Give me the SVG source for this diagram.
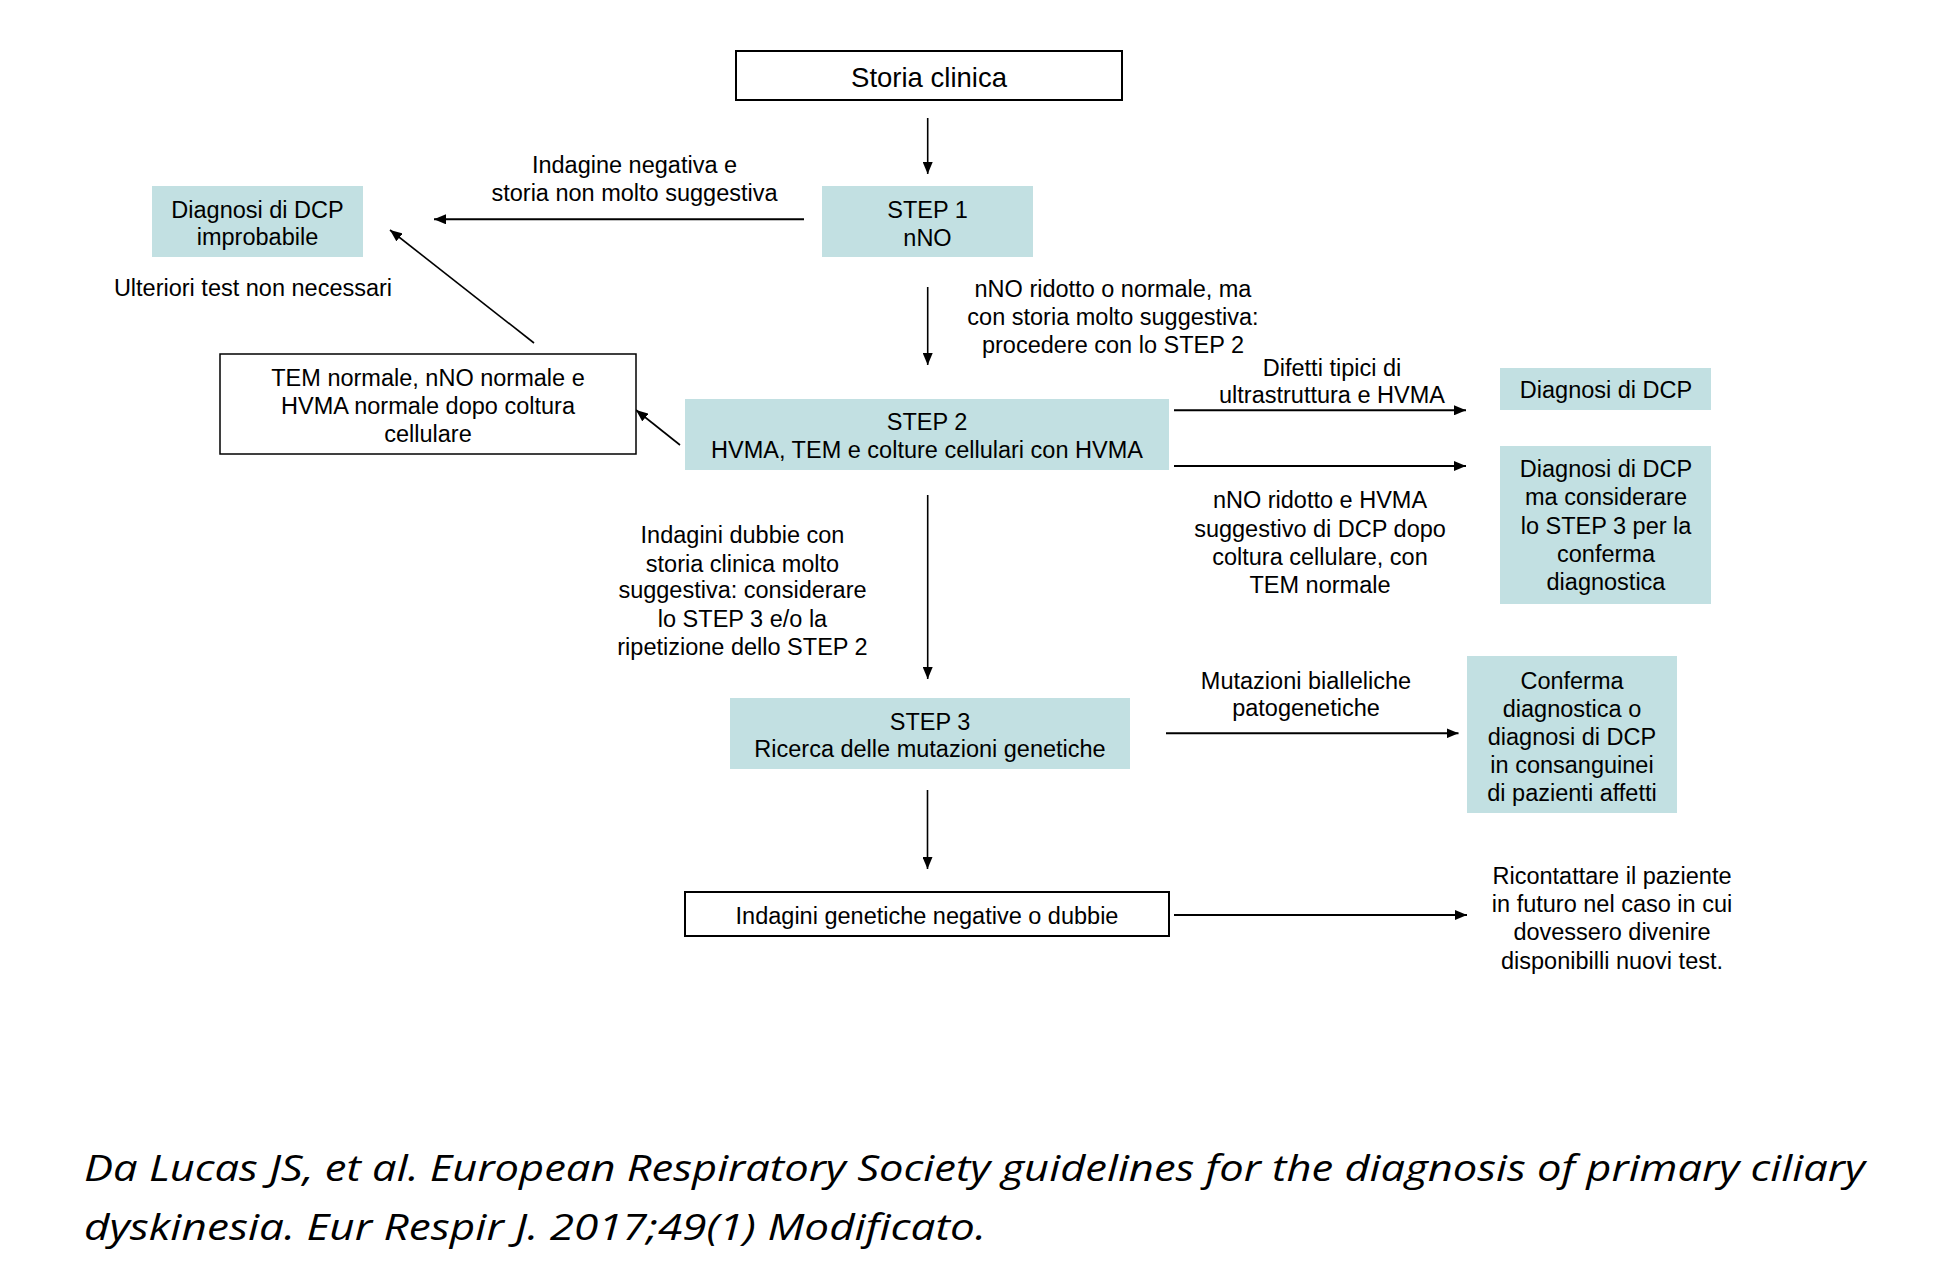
<svg xmlns="http://www.w3.org/2000/svg" width="1938" height="1268" viewBox="0 0 1938 1268">
<style>
.t{font-family:"Liberation Sans",Arial,Helvetica,sans-serif;font-size:23.5px;text-anchor:middle;fill:#000}
.big{font-size:27.5px}
.teal{fill:#c2e0e2}
.wbox{fill:#fff;stroke:#000;stroke-width:2}
.conn line{stroke:#000;stroke-width:1.6;fill:none}
.conn line.h{stroke-width:2}
.cite{font-family:"Open Sans","Liberation Sans",sans-serif;font-style:italic;font-weight:500;font-size:36.5px;fill:#000}
</style>
<defs>
<marker id="ah" viewBox="0 0 12 10" refX="12" refY="5" markerWidth="12" markerHeight="10" markerUnits="userSpaceOnUse" orient="auto">
<path d="M0,0 L12,5 L0,10 Z" fill="#000"/>
</marker>
</defs>
<rect width="1938" height="1268" fill="#fff"/>

<g id="connectors" class="conn">
<line x1="927.7" y1="118" x2="927.7" y2="174" marker-end="url(#ah)"/>
<line class="h" x1="804" y1="219.3" x2="434" y2="219.3" marker-end="url(#ah)"/>
<line x1="927.7" y1="287" x2="927.7" y2="365" marker-end="url(#ah)"/>
<line x1="534" y1="343" x2="390" y2="230" marker-end="url(#ah)"/>
<line x1="680" y1="445" x2="636" y2="410" marker-end="url(#ah)"/>
<line class="h" x1="1174" y1="410.3" x2="1466" y2="410.3" marker-end="url(#ah)"/>
<line class="h" x1="1174" y1="466" x2="1466" y2="466" marker-end="url(#ah)"/>
<line x1="927.7" y1="495" x2="927.7" y2="679" marker-end="url(#ah)"/>
<line class="h" x1="1166" y1="733.3" x2="1458.5" y2="733.3" marker-end="url(#ah)"/>
<line x1="927.5" y1="790" x2="927.5" y2="869" marker-end="url(#ah)"/>
<line class="h" x1="1174" y1="915" x2="1467" y2="915" marker-end="url(#ah)"/>
</g>

<g id="connector-labels">
<text class="t" x="634.5" y="173">Indagine negativa e</text>
<text class="t" x="634.5" y="200.7">storia non molto suggestiva</text>
<text class="t" x="1113" y="296.7">nNO ridotto o normale, ma</text>
<text class="t" x="1113" y="325">con storia molto suggestiva:</text>
<text class="t" x="1113" y="352.7">procedere con lo STEP 2</text>
<text class="t" x="1332" y="376">Difetti tipici di</text>
<text class="t" x="1332" y="403.3">ultrastruttura e HVMA</text>
<text class="t" x="1320" y="508.3">nNO ridotto e HVMA</text>
<text class="t" x="1320" y="536.7">suggestivo di DCP dopo</text>
<text class="t" x="1320" y="565">coltura cellulare, con</text>
<text class="t" x="1320" y="593.3">TEM normale</text>
<text class="t" x="742.5" y="543.3">Indagini dubbie con</text>
<text class="t" x="742.5" y="571.7">storia clinica molto</text>
<text class="t" x="742.5" y="598.3">suggestiva: considerare</text>
<text class="t" x="742.5" y="626.7">lo STEP 3 e/o la</text>
<text class="t" x="742.5" y="655">ripetizione dello STEP 2</text>
<text class="t" x="1306" y="689">Mutazioni bialleliche</text>
<text class="t" x="1306" y="716">patogenetiche</text>
</g>

<g id="storia">
<rect class="wbox" x="736" y="51" width="386" height="49"/>
<text class="t big" x="929" y="87">Storia clinica</text>
</g>

<g id="step1">
<rect class="teal" x="822" y="186" width="211" height="71"/>
<text class="t" x="927.5" y="218">STEP 1</text>
<text class="t" x="927.5" y="246">nNO</text>
</g>

<g id="improbabile">
<rect class="teal" x="152" y="186" width="211" height="71"/>
<text class="t" x="257.5" y="218">Diagnosi di DCP</text>
<text class="t" x="257.5" y="245">improbabile</text>
</g>

<g id="ulteriori">
<text class="t" x="253" y="296">Ulteriori test non necessari</text>
</g>

<g id="tem">
<rect class="wbox" style="stroke-width:1.5" x="220" y="354" width="416" height="100"/>
<text class="t" x="428" y="386">TEM normale, nNO normale e</text>
<text class="t" x="428" y="413.5">HVMA normale dopo coltura</text>
<text class="t" x="428" y="441.5">cellulare</text>
</g>

<g id="step2">
<rect class="teal" x="685" y="399" width="484" height="71"/>
<text class="t" x="927" y="429.5">STEP 2</text>
<text class="t" x="927" y="458">HVMA, TEM e colture cellulari con HVMA</text>
</g>

<g id="dcp">
<rect class="teal" x="1500" y="368" width="211" height="42"/>
<text class="t" x="1606" y="398">Diagnosi di DCP</text>
</g>

<g id="dcp-step3">
<rect class="teal" x="1500" y="446" width="211" height="158"/>
<text class="t" x="1606" y="476.5">Diagnosi di DCP</text>
<text class="t" x="1606" y="505">ma considerare</text>
<text class="t" x="1606" y="533.5">lo STEP 3 per la</text>
<text class="t" x="1606" y="562">conferma</text>
<text class="t" x="1606" y="590">diagnostica</text>
</g>

<g id="step3">
<rect class="teal" x="730" y="698" width="400" height="71"/>
<text class="t" x="930" y="729.5">STEP 3</text>
<text class="t" x="930" y="757">Ricerca delle mutazioni genetiche</text>
</g>

<g id="conferma">
<rect class="teal" x="1467" y="656" width="210" height="157"/>
<text class="t" x="1572" y="689">Conferma</text>
<text class="t" x="1572" y="717">diagnostica o</text>
<text class="t" x="1572" y="745">diagnosi di DCP</text>
<text class="t" x="1572" y="773">in consanguinei</text>
<text class="t" x="1572" y="801">di pazienti affetti</text>
</g>

<g id="genetiche">
<rect class="wbox" x="685" y="892" width="484" height="44"/>
<text class="t" x="927" y="924">Indagini genetiche negative o dubbie</text>
</g>

<g id="ricontattare">
<text class="t" x="1612" y="883.5">Ricontattare il paziente</text>
<text class="t" x="1612" y="912">in futuro nel caso in cui</text>
<text class="t" x="1612" y="940">dovessero divenire</text>
<text class="t" x="1612" y="968.5">disponibilli nuovi test.</text>
</g>

<g id="citation">
<text class="cite" x="84" y="1181" textLength="1781" lengthAdjust="spacingAndGlyphs">Da Lucas JS, et al. European Respiratory Society guidelines for the diagnosis of primary ciliary</text>
<text class="cite" x="84" y="1240" textLength="902" lengthAdjust="spacingAndGlyphs">dyskinesia. Eur Respir J. 2017;49(1) Modificato.</text>
</g>
</svg>
